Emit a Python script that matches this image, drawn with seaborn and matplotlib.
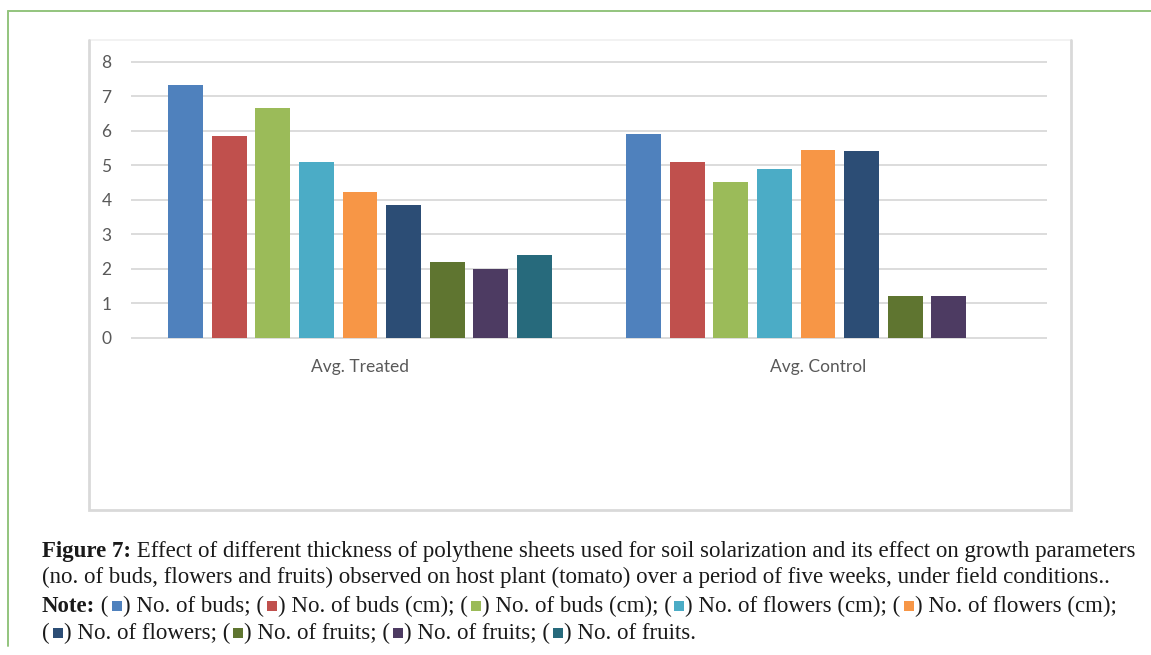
import numpy as np
import pandas as pd
import matplotlib
matplotlib.use("Agg")
import matplotlib.pyplot as plt
from matplotlib.lines import Line2D
from matplotlib.patches import Rectangle
import seaborn as sns

# ---- data -------------------------------------------------------------
categories = ["Avg. Treated", "Avg. Control"]
series_keys = ["s1", "s2", "s3", "s4", "s5", "s6", "s7", "s8", "s9"]
series_names = ["No. of buds", "No. of buds (cm)", "No. of buds (cm)",
                "No. of flowers (cm)", "No. of flowers (cm)", "No. of flowers",
                "No. of fruits", "No. of fruits", "No. of fruits"]
treated = [7.33, 5.85, 6.65, 5.10, 4.23, 3.85, 2.20, 2.00, 2.40]
control = [5.90, 5.10, 4.50, 4.90, 5.45, 5.40, 1.20, 1.20, 0.0]
y_ticks = [0, 1, 2, 3, 4, 5, 6, 7, 8]

colors = ["#4F81BD", "#C0504D", "#9BBB59", "#4BACC6", "#F79646",
          "#2C4D75", "#5F7530", "#4D3B62", "#276A7C"]

df = pd.DataFrame({
    "group": [categories[0]] * 9 + [categories[1]] * 9,
    "series": series_keys * 2,
    "value": treated + control,
})

# ---- figure -----------------------------------------------------------
W, H = 1151, 655
sns.set_theme(style="white")
plt.rcParams["font.family"] = ["Lato", "DejaVu Sans"]
fig = plt.figure(figsize=(W / 100, H / 100), dpi=100, facecolor="white")

def fx(px):
    return px / W

def fy(py):
    return 1 - py / H

# outer green frame (top and left edges)
fig.add_artist(Line2D([fx(8), fx(W)], [fy(11), fy(11)], color="#93C47D", lw=1.4))
fig.add_artist(Line2D([fx(8), fx(8)], [fy(11), fy(646)], color="#93C47D", lw=1.4))

# light chart frame
fig.add_artist(Line2D([fx(89), fx(1071)], [fy(40), fy(40)], color="#F0F0F0", lw=1.2))
fig.add_artist(Line2D([fx(89), fx(89), fx(1071), fx(1071)],
                      [fy(40), fy(510), fy(510), fy(40)],
                      color="#D9D9D9", lw=2.0, solid_joinstyle="miter"))

# plot area: y=0 at px 337.7, y=8 at px 61.7
upx = (337.7 - 61.7) / 8.0
pad = 0.05
ax_top = 61.7 - pad * upx
ax_bot = 337.7 + pad * upx
ax = fig.add_axes([fx(131), fy(ax_bot), (1047 - 131) / W, (ax_bot - ax_top) / H])
ax.set_facecolor("white")

sns.barplot(data=df, x="group", y="value", hue="series", hue_order=series_keys,
            order=categories, palette=colors, saturation=1, width=0.857, gap=0.2,
            linewidth=0, legend=False, errorbar=None, ax=ax, zorder=3)

ax.set_xlim(-0.5, 1.5)
ax.set_ylim(-pad, 8 + pad)
ax.set_yticks(y_ticks)
ax.yaxis.grid(True, color="#D9D9D9", lw=1.3)
ax.xaxis.grid(False)
ax.set_axisbelow(True)
for s in ax.spines.values():
    s.set_visible(False)
ax.tick_params(axis="y", length=0, pad=14, labelsize=12.5, labelcolor="#595959")
ax.tick_params(axis="x", length=0, pad=14, labelsize=12.5, labelcolor="#595959")
ax.set_xlabel("")
ax.set_ylabel("")

# ---- caption ------------------------------------------------------------
serif = ["Liberation Serif", "DejaVu Serif"]
cap_size = 16.5
renderer = fig.canvas.get_renderer()

def draw_line(items, x0, base):
    x = x0
    for it in items:
        if it[0] == "sq":
            side = 10
            x += 3
            fig.add_artist(Rectangle((fx(x), fy(base - 1)), side / W, side / H,
                                     facecolor=it[1], edgecolor="none"))
            x += side + 1
        else:
            txt, weight = it
            t = fig.text(fx(x), fy(base), txt, fontsize=cap_size, family=serif,
                         weight=weight, color="#1a1a1a", va="baseline", ha="left")
            x += t.get_window_extent(renderer).width

line1 = [("Figure 7:", "bold"),
         (" Effect of different thickness of polythene sheets used for soil solarization and its effect on growth parameters", "normal")]
line2 = [("(no. of buds, flowers and fruits) observed on host plant (tomato) over a period of five weeks, under field conditions..", "normal")]

line3 = [("Note:", "bold"), (" (", "normal")]
for i in range(5):
    line3.append(("sq", colors[i]))
    tail = "; (" if i < 4 else ";"
    line3.append((") " + series_names[i] + tail, "normal"))
line4 = [("(", "normal")]
for i in range(5, 9):
    line4.append(("sq", colors[i]))
    tail = "; (" if i < 8 else "."
    line4.append((") " + series_names[i] + tail, "normal"))

draw_line(line1, 42, 557)
draw_line(line2, 42, 583)
draw_line(line3, 42, 612)
draw_line(line4, 42, 639)

fig.savefig("out.png", dpi=100, facecolor="white")
